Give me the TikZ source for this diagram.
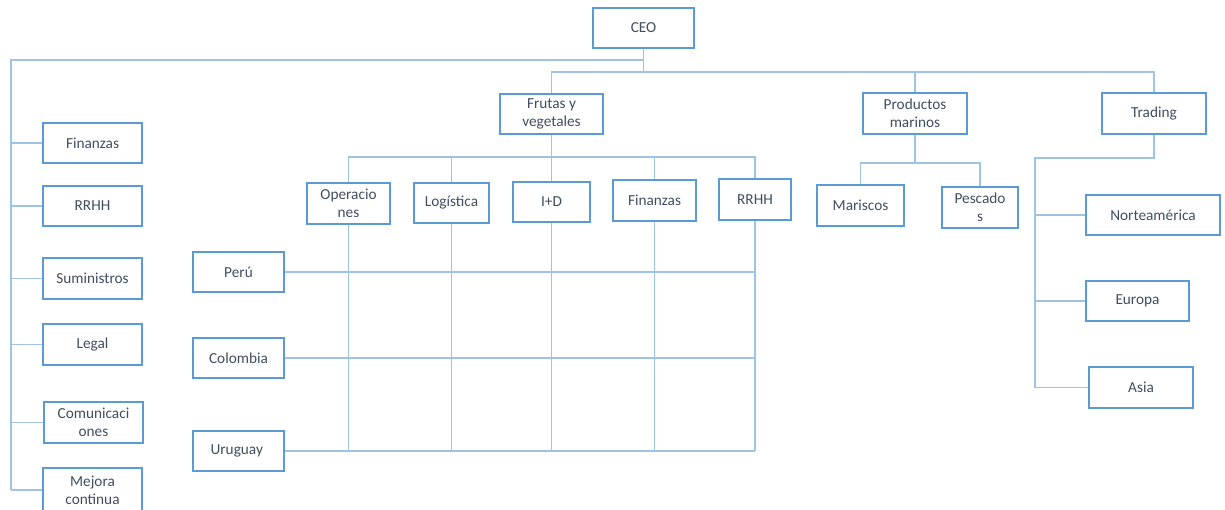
\documentclass[tikz,border=0pt]{standalone}
\usepackage{fontspec}
\setmainfont{Carlito}
\usetikzlibrary{positioning}
\definecolor{boxblue}{RGB}{91,155,213}
\definecolor{lineblue}{RGB}{157,195,230}
\definecolor{txtgray}{RGB}{64,78,98}

\begin{document}
\begin{tikzpicture}[x=0.02cm, y=-0.02cm,
  unit/.style={draw=boxblue, line width=1.6pt, fill=white, text=txtgray, align=center,
    inner sep=1pt, font=\fontsize{8.7}{10.4}\selectfont},
  link/.style={draw=lineblue, line width=0.7pt}]
\useasboundingbox (0,0) rectangle (1225,510);
\foreach \name/\x/\y/\w/\h/\label in {
    ceo/643.5/28/101/40/CEO,
    fv/551.5/114/103/40/{Frutas y\\vegetales},
    pm/915/113.5/104/41/{Productos\\marinos},
    trd/1154/113.5/104/41/Trading,
    ope/348.5/203.5/83/41/{Operacio\\nes},
    log/451.5/203/75/40/Logística,
    id/551.5/202/77/40/I+D,
    fin2/654.5/200.5/83/41/Finanzas,
    rrhh2/755/199.5/72/41/RRHH,
    mar/860.5/205.5/87/41/Mariscos,
    pes/980/207.5/76/41/{Pescado\\s},
    nor/1153/215/134/40/Norteamérica,
    eur/1137.5/301/103/40/Europa,
    asi/1141/387.5/104/41/Asia,
    fin/92.5/143/99/40/Finanzas,
    rrhh/92.5/206/99/40/RRHH,
    sum/92.5/278.5/99/41/Suministros,
    leg/92.5/344.5/99/41/Legal,
    com/93.5/422.5/99/41/{Comunicaci\\ones},
    mej/92.5/490/99/44/{Mejora\\continua},
    per/238.5/272/91/40/Perú,
    col/238.5/358/91/40/Colombia,
    uru/238.5/451/91/40/Uruguay
} {
    \node[unit, minimum width=\w*0.02cm, minimum height=\h*0.02cm] (\name) at (\x,\y) {\label};
}
\coordinate (ltop) at (11,60);
\coordinate (tbar) at (643.5,72);
\coordinate (fbar) at (551.5,157);
\coordinate (mbar) at (915,163);
\coordinate (tdrop) at (1035,158);
\draw[link] (ceo.south) |- (ltop) -- (mej.west -| ltop);
\foreach \n in {fin,rrhh,sum,leg,com,mej}
    \draw[link] (\n.west) -- (\n.west -| ltop);
\draw[link] (ceo.south) -- (tbar);
\draw[link] (fv.north) -- (fv.north |- tbar) -- (trd.north |- tbar) -- (trd.north);
\draw[link] (pm.north) -- (pm.north |- tbar);
\draw[link] (fv.south) -- (id.north);
\draw[link] (ope.north) |- (fbar) -| (rrhh2.north);
\foreach \n in {log,fin2}
    \draw[link] (\n.north) -- (\n.north |- fbar);
\foreach \n in {ope,log,id,fin2,rrhh2}
    \draw[link] (\n.south) -- (\n.south |- uru.east);
\foreach \n in {per,col,uru}
    \draw[link] (\n.east) -- (\n.east -| rrhh2.south);
\draw[link] (pm.south) -- (mbar);
\draw[link] (mar.north) |- (mbar) -| (pes.north);
\draw[link] (trd.south) |- (tdrop) -- (asi.west -| tdrop);
\foreach \n in {nor,eur,asi}
    \draw[link] (\n.west) -- (\n.west -| tdrop);
\end{tikzpicture}
\end{document}
